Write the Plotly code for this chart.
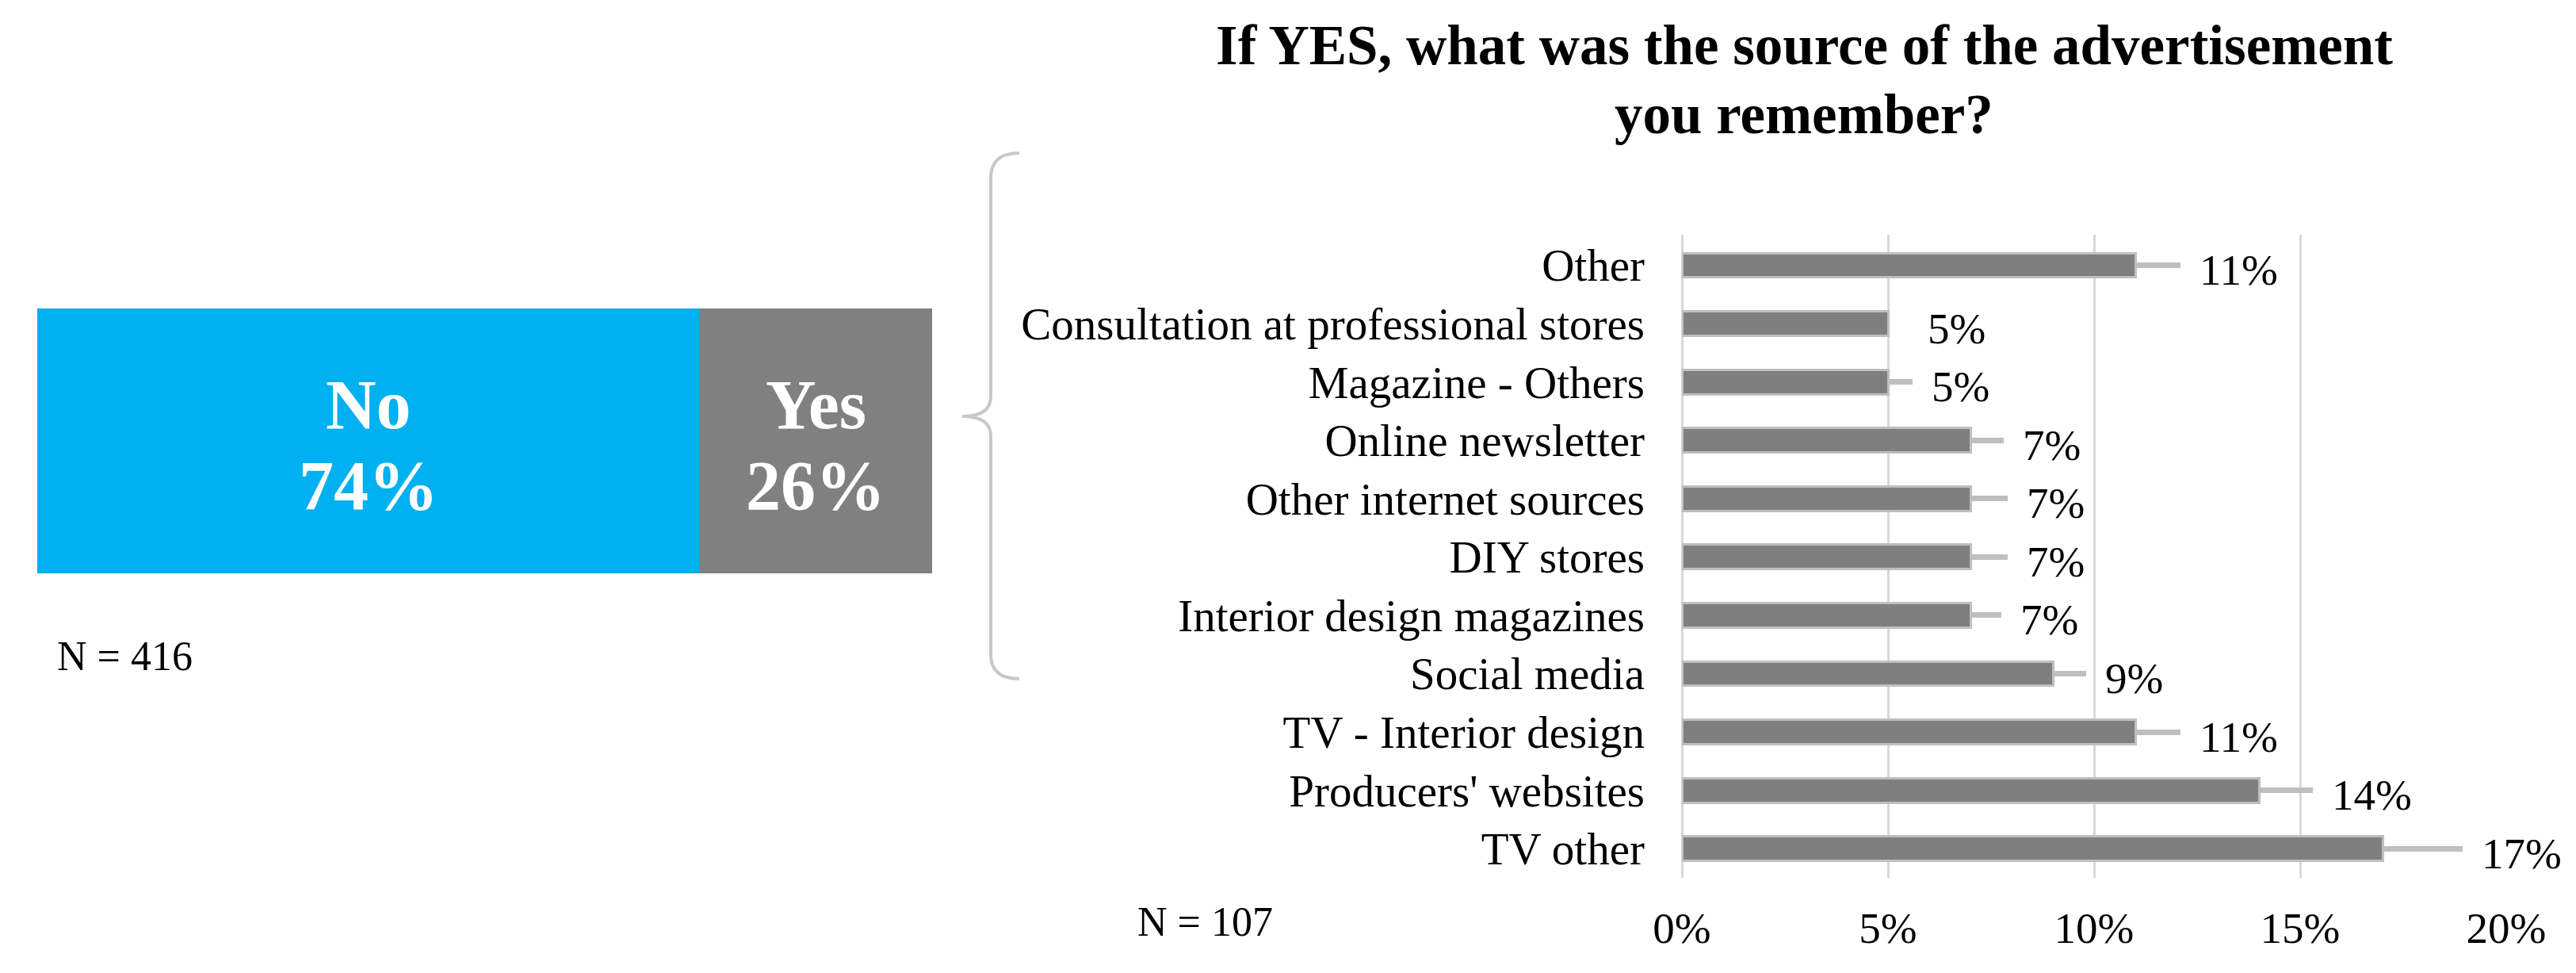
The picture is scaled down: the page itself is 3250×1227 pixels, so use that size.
import plotly.graph_objects as go

# ---- data ---------------------------------------------------------------
answer_labels = ["No", "Yes"]
answer_shares = [74, 26]
answer_colors = ["#00B0F0", "#808080"]
n_all = 416

sources = [
    "Other",
    "Consultation at professional stores",
    "Magazine - Others",
    "Online newsletter",
    "Other internet sources",
    "DIY stores",
    "Interior design magazines",
    "Social media",
    "TV - Interior design",
    "Producers' websites",
    "TV other",
]
source_shares = [11, 5, 5, 7, 7, 7, 7, 9, 11, 14, 17]
source_errors = [1.1, 0, 0.6, 0.8, 0.9, 0.9, 0.75, 0.8, 1.1, 1.3, 1.95]
n_yes = 107

TITLE_LINES = ["If YES, what was the source of the advertisement", "you remember?"]

# ---- style --------------------------------------------------------------
W, H = 3250, 1227
FONT = "Times New Roman, Liberation Serif, serif"
BAR_GRAY = "#7F7F7F"
LIGHT = "#BFBFBF"
GRID = "#D9D9D9"


def px(x, y):
    """pixel position -> paper coords (margins are zero)"""
    return x / W, 1 - y / H


fig = go.Figure()
annotations = []

# ── left: stacked No / Yes bar ─────────────────────────────────────────────
left = 0
for lab, val, col in zip(answer_labels, answer_shares, answer_colors):
    fig.add_trace(go.Bar(
        x=[val], y=[0], orientation="h",
        marker=dict(color=col, line=dict(width=0)),
        width=1,
        xaxis="x2", yaxis="y2", showlegend=False, hoverinfo="skip",
    ))
    mid = left + val / 2
    for txt, shift in [(lab, 46), (f"{val}%", -56)]:
        annotations.append(dict(
            x=mid, y=0, xref="x2", yref="y2", text=f"<b>{txt}</b>",
            showarrow=False, xanchor="center", yanchor="middle", yshift=shift,
            font=dict(family=FONT, size=88, color="white"),
        ))
    left += val

# ── right: sources bar chart ──────────────────────────────────────────────
fig.add_trace(go.Bar(
    x=source_shares, y=sources, orientation="h",
    marker=dict(color=BAR_GRAY, line=dict(color=LIGHT, width=3)),
    width=0.42,
    error_x=dict(type="data", symmetric=False, array=source_errors,
                 arrayminus=[0] * len(source_errors),
                 color=LIGHT, thickness=7, width=0),
    showlegend=False,
))

for s, v, e in zip(sources, source_shares, source_errors):
    annotations.append(dict(
        x=v + (e if e > 0 else 0.5), y=s, xref="x", yref="y", text=f"{v}%",
        showarrow=False, xanchor="left", xshift=22, yshift=-6,
        font=dict(family=FONT, size=55, color="black"),
    ))

x0, y0 = px(1433, 1162)
annotations.append(dict(x=x0, y=y0, xref="paper", yref="paper", text=f"N = {n_yes}",
                        showarrow=False, xanchor="left", yanchor="middle",
                        font=dict(family=FONT, size=52, color="black")))
x0, y0 = px(70, 827)
annotations.append(dict(x=x0, y=y0, xref="paper", yref="paper", text=f"N = {n_all}",
                        showarrow=False, xanchor="left", yanchor="middle",
                        font=dict(family=FONT, size=52, color="black")))
for line, yc in zip(TITLE_LINES, [57, 144]):
    x0, y0 = px(2276, yc)
    annotations.append(dict(x=x0, y=y0, xref="paper", yref="paper", text=f"<b>{line}</b>",
                            showarrow=False, xanchor="center", yanchor="middle",
                            font=dict(family=FONT, size=71, color="black")))

# curly brace between the two charts
def P(x, y):
    a, b = px(x, y)
    return f"{a:.5f},{b:.5f}"

brace = (
    f"M {P(1286, 193)} Q {P(1250, 193)} {P(1250, 225)} "
    f"L {P(1250, 500)} Q {P(1250, 525)} {P(1214, 525)} "
    f"Q {P(1250, 525)} {P(1250, 550)} "
    f"L {P(1250, 825)} Q {P(1250, 856)} {P(1286, 856)}"
)

fig.update_layout(
    width=W, height=H,
    margin=dict(l=0, r=0, t=0, b=0, autoexpand=False),
    paper_bgcolor="white", plot_bgcolor="white",
    barmode="stack",
    hovermode=False,
    font=dict(family=FONT, size=55, color="black"),
    xaxis=dict(domain=[2122 / W, 3162 / W], range=[0, 20], dtick=5, ticksuffix="%",
               showgrid=True, gridcolor=GRID, gridwidth=3,
               zeroline=True, zerolinecolor=GRID, zerolinewidth=3,
               showline=False, ticks="", ticklabelstandoff=26, automargin=False,
               tickfont=dict(family=FONT, size=55, color="black")),
    yaxis=dict(domain=[1 - 1107 / H, 1 - 296 / H], autorange="reversed",
               showgrid=False, showline=False, ticks="", ticklabelstandoff=46,
               automargin=False,
               tickfont=dict(family=FONT, size=57, color="black")),
    xaxis2=dict(domain=[47 / W, 1176 / W], range=[0, 100], visible=False,
                anchor="y2", automargin=False),
    yaxis2=dict(domain=[1 - 723 / H, 1 - 389 / H], range=[-0.5, 0.5], visible=False,
                anchor="x2", automargin=False),
    annotations=annotations,
    shapes=[dict(type="path", path=brace, xref="paper", yref="paper",
                 line=dict(color="#C8C8C8", width=4))],
)

fig.write_html("out.html", config={"displayModeBar": False},
               post_script="document.body.style.margin = '0px';")
